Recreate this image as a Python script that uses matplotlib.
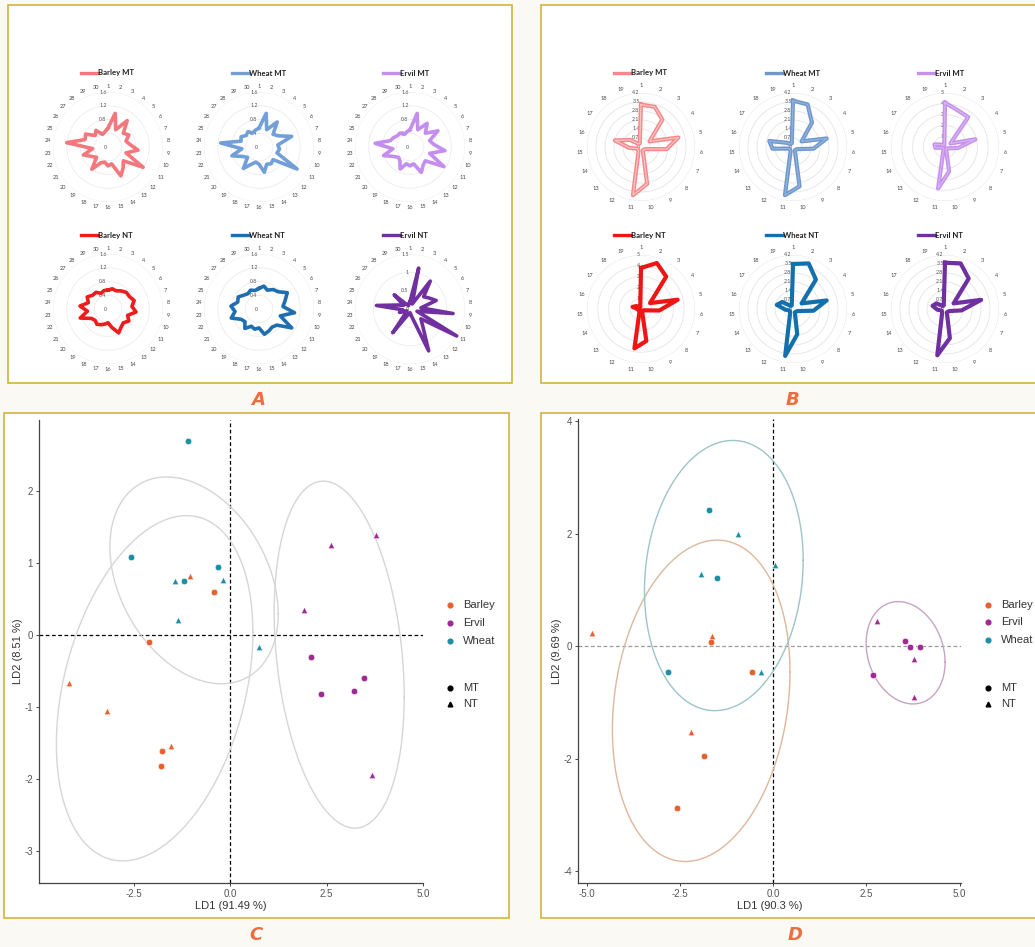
import numpy as np
import matplotlib
matplotlib.use("Agg")
import matplotlib.pyplot as plt
from matplotlib.lines import Line2D
from matplotlib.patches import Rectangle

plt.rcParams["axes.unicode_minus"] = False

# ---------------- data: radar profiles (panel A, 30 variables) ----------------
a_categories = list(range(1, 31))
a_barley_mt = [0.55, 1.00, 0.55, 0.95, 0.60, 0.70, 0.55, 0.65, 0.88, 0.55,
               1.18, 0.60, 0.75, 0.92, 0.50, 0.55, 0.45, 0.50, 0.80, 0.45,
               0.55, 0.75, 0.45, 1.21, 0.70, 0.75, 0.50, 0.60, 0.40, 0.45]
a_wheat_mt = [0.55, 1.00, 0.55, 0.90, 0.55, 0.65, 1.00, 0.55, 0.60, 0.55,
              1.28, 0.55, 0.60, 0.55, 0.75, 0.50, 0.45, 0.55, 0.77, 0.45,
              0.55, 0.83, 0.50, 1.12, 0.55, 0.60, 0.50, 0.55, 0.45, 0.50]
a_ervil_mt = [0.50, 1.00, 0.55, 0.85, 0.60, 0.94, 0.60, 0.70, 1.02, 0.60,
              1.14, 0.60, 0.65, 0.81, 0.50, 0.55, 0.50, 0.70, 0.50, 0.45,
              0.55, 0.81, 0.50, 1.02, 0.60, 0.55, 0.49, 0.50, 0.40, 0.45]
a_barley_nt = [0.55, 0.60, 0.58, 0.65, 0.72, 0.72, 0.80, 0.70, 0.82, 0.60,
               0.70, 0.60, 0.65, 0.76, 0.55, 0.40, 0.45, 0.50, 0.55, 0.50,
               0.55, 0.85, 0.60, 0.82, 0.60, 0.70, 0.60, 0.60, 0.50, 0.55]
a_wheat_nt = [0.60, 0.68, 0.60, 0.70, 0.75, 0.95, 0.80, 0.70, 1.04, 0.65,
              1.10, 0.70, 0.65, 0.70, 0.75, 0.55, 0.60, 0.55, 0.70, 0.55,
              0.60, 0.85, 0.70, 0.82, 0.65, 0.70, 0.60, 0.55, 0.60, 0.55]
a_ervil_nt = [0.20, 1.14, 0.15, 0.94, 0.50, 0.60, 0.75, 0.30, 1.18, 0.20,
              1.47, 0.40, 0.60, 1.25, 0.20, 0.10, 0.15, 0.20, 0.80, 0.15,
              0.10, 0.30, 0.20, 0.92, 0.35, 0.20, 0.58, 0.15, 0.10, 0.15]

# ---------------- data: radar profiles (panel B, 19 variables) ----------------
b_categories = list(range(1, 20))
b_barley_mt = [3.3, 3.3, 2.7, 0.8, 3.0, 2.0, 0.4, 0.3, 0.3, 2.9,
               3.8, 0.4, 0.3, 0.3, 0.9, 2.1, 1.0, 0.3, 0.3]
b_wheat_mt = [3.6, 3.5, 2.4, 0.8, 2.7, 1.6, 0.4, 0.3, 0.3, 3.1,
              3.8, 0.4, 0.3, 0.3, 1.6, 1.9, 0.6, 0.3, 0.3]
b_ervil_mt = [4.1, 3.6, 3.5, 0.6, 2.9, 1.2, 0.3, 0.2, 0.2, 2.3,
              3.9, 0.3, 0.2, 0.2, 0.9, 1.0, 0.4, 0.2, 0.2]
b_barley_nt = [3.8, 4.5, 3.8, 1.0, 3.5, 1.7, 0.3, 0.2, 0.2, 3.0,
               3.7, 0.3, 0.2, 0.2, 0.3, 0.8, 0.5, 0.2, 0.2]
b_wheat_nt = [3.5, 3.75, 2.9, 0.8, 2.7, 1.6, 0.4, 0.3, 0.3, 2.0,
              3.7, 0.5, 0.3, 0.3, 0.6, 1.3, 1.0, 0.3, 0.3]
b_ervil_nt = [3.6, 3.75, 3.0, 0.8, 2.9, 1.3, 0.4, 0.3, 0.3, 2.3,
              3.65, 0.5, 0.3, 0.3, 0.6, 1.0, 0.8, 0.3, 0.3]

a_rings = [0.4, 0.8, 1.2, 1.6]
a_ring_labels = ["0", "0.4", "0.8", "1.2", "1.6"]
a_rings_ervil_nt = [0.5, 1.0, 1.5]
a_ring_labels_ervil_nt = ["0", "0.5", "1", "1.5"]
b_rings_42 = [0.7, 1.4, 2.1, 2.8, 3.5, 4.2]
b_ring_labels_42 = ["0", "0.7", "1.4", "2.1", "2.8", "3.5", "4.2"]
b_rings_5 = [1, 2, 3, 4, 5]
b_ring_labels_5 = ["0", "1", "2", "3", "4", "5"]

# ---------------- data: LDA scores (panel C) ----------------
c_barley_mt_x = [-0.41, -2.11, -1.76, -1.80]
c_barley_mt_y = [0.60, -0.09, -1.60, -1.81]
c_barley_nt_x = [-1.03, -4.18, -3.19, -1.52]
c_barley_nt_y = [0.82, -0.66, -1.05, -1.54]
c_ervil_mt_x = [2.11, 2.35, 3.20, 3.46]
c_ervil_mt_y = [-0.30, -0.82, -0.78, -0.59]
c_ervil_nt_x = [3.78, 2.61, 1.91, 3.69]
c_ervil_nt_y = [1.39, 1.25, 0.35, -1.94]
c_wheat_mt_x = [-2.56, -1.10, -1.20, -0.31]
c_wheat_mt_y = [1.09, 2.70, 0.75, 0.95]
c_wheat_nt_x = [-1.42, -0.18, -1.34, 0.74]
c_wheat_nt_y = [0.75, 0.77, 0.21, -0.16]

# ---------------- data: LDA scores (panel D) ----------------
d_barley_mt_x = [-1.67, -0.56, -1.87, -2.59]
d_barley_mt_y = [0.08, -0.45, -1.95, -2.88]
d_barley_nt_x = [-4.86, -1.63, -2.21]
d_barley_nt_y = [0.24, 0.18, -1.52]
d_ervil_mt_x = [3.54, 3.68, 3.95, 2.69]
d_ervil_mt_y = [0.10, -0.01, -0.01, -0.51]
d_ervil_nt_x = [2.78, 3.77, 3.77]
d_ervil_nt_y = [0.44, -0.23, -0.91]
d_wheat_mt_x = [-1.72, -1.50, -2.83]
d_wheat_mt_y = [2.42, 1.22, -0.46]
d_wheat_nt_x = [-0.94, -1.94, 0.05, -0.34]
d_wheat_nt_y = [2.00, 1.29, 1.44, -0.46]

species = ["Barley", "Ervil", "Wheat"]
tillage = ["MT", "NT"]

# ---------------- figure setup ----------------
W, H = 1035, 947
fig = plt.figure(figsize=(W / 100, H / 100), dpi=100)
fig.patch.set_facecolor("#fbf9f3")


def fx(x):
    return x / W


def fy(y):
    return 1 - y / H


GOLD = "#cfae2c"
LABEL_COLOR = "#ee6d3f"


def frame(x0, y0, x1, y1):
    fig.add_artist(Rectangle((fx(x0), fy(y1)), fx(x1) - fx(x0), fy(y0) - fy(y1),
                             transform=fig.transFigure, facecolor="white",
                             edgecolor=GOLD, lw=1.1, zorder=0))


frame(8, 5, 512, 383)
frame(541, 5, 1045, 383)
frame(4, 413, 509, 918)
frame(541, 413, 1045, 918)

for letter, (x, y) in zip("ABCD", [(258, 400), (793, 400), (256, 935), (795, 935)]):
    fig.text(fx(x), fy(y), letter, color=LABEL_COLOR, fontsize=13, style="italic",
             fontweight="bold", ha="center", va="center", family="DejaVu Sans")


# ---------------- radar helper ----------------
def radar(cx, cy, R, cats, vals, rings, ring_labels, color, title, lw,
          label_r=1.1, core=None, ring_color="#ececec"):
    ax = fig.add_axes([fx(cx - R), fy(cy + R), 2 * R / W, 2 * R / H], projection="polar")
    ax.set_theta_offset(np.pi / 2)
    ax.set_theta_direction(-1)
    rmax = rings[-1]
    ax.set_ylim(0, rmax)
    ax.set_axis_off()
    ax.patch.set_alpha(0)
    n = len(cats)
    th = np.arange(n) * 2 * np.pi / n
    circ = np.linspace(0, 2 * np.pi, 361)
    for r in rings:
        ax.plot(circ, np.full_like(circ, r), color=ring_color, lw=0.6, zorder=1)
    for t, c in zip(th, cats):
        ax.text(t, rmax * label_r, str(c), fontsize=4.1, color="#444444",
                ha="center", va="center", family="Lato")
    for r, s in zip([0] + list(rings), ring_labels):
        ax.annotate(s, xy=(0, r), xytext=(-1.0, 0), textcoords="offset points",
                    ha="right", va="center", fontsize=3.8, color="#555555", family="Lato")
    tt = np.append(th, th[0])
    vv = np.append(vals, vals[0])
    ax.plot(tt, vv, color=color, lw=lw, solid_joinstyle="round", zorder=3, clip_on=False)
    if core is not None:
        ax.plot(tt, vv, color=core, lw=lw * 0.3, solid_joinstyle="round", zorder=4,
                clip_on=False, alpha=0.8)
    # legend-style title
    ty = cy - 74
    fig.add_artist(Line2D([fx(cx - 27), fx(cx - 10)], [fy(ty), fy(ty)], color=color,
                          lw=2.4, transform=fig.transFigure))
    fig.text(fx(cx - 10), fy(ty), title, fontsize=5.6, fontweight="bold", color="#222222",
             ha="left", va="center", family="Lato")
    return ax


# Panel A
a_cols = [108, 259, 410]
a_rows = [147, 309]
A_R = 55
radar(a_cols[0], a_rows[0], A_R, a_categories, a_barley_mt, a_rings, a_ring_labels,
      "#f2787d", "Barley MT", 2.6)
radar(a_cols[1], a_rows[0], A_R, a_categories, a_wheat_mt, a_rings, a_ring_labels,
      "#739fd8", "Wheat MT", 2.6)
radar(a_cols[2], a_rows[0], A_R, a_categories, a_ervil_mt, a_rings, a_ring_labels,
      "#c48ef0", "Ervil MT", 2.6)
radar(a_cols[0], a_rows[1], A_R, a_categories, a_barley_nt, a_rings, a_ring_labels,
      "#ee1c1c", "Barley NT", 2.6)
radar(a_cols[1], a_rows[1], A_R, a_categories, a_wheat_nt, a_rings, a_ring_labels,
      "#1f6fb0", "Wheat NT", 2.6)
radar(a_cols[2], a_rows[1], A_R, a_categories, a_ervil_nt, a_rings_ervil_nt,
      a_ring_labels_ervil_nt, "#7030a0", "Ervil NT", 2.6)

# Panel B
b_cols = [641, 793, 945]
b_rows = [147, 309]
B_R = 54
radar(b_cols[0], b_rows[0], B_R, b_categories, b_barley_mt, b_rings_42, b_ring_labels_42,
      "#f4888c", "Barley MT", 3.0, label_r=1.13, core="#f9d3cc", ring_color="#e4e4e4")
radar(b_cols[1], b_rows[0], B_R, b_categories, b_wheat_mt, b_rings_42, b_ring_labels_42,
      "#6f97cc", "Wheat MT", 3.0, label_r=1.13, core="#9cb9e0", ring_color="#e4e4e4")
radar(b_cols[2], b_rows[0], B_R, b_categories, b_ervil_mt, b_rings_5, b_ring_labels_5,
      "#c690ee", "Ervil MT", 3.0, label_r=1.13, core="#dcbcf4", ring_color="#e4e4e4")
radar(b_cols[0], b_rows[1], B_R, b_categories, b_barley_nt, b_rings_5, b_ring_labels_5,
      "#ee1515", "Barley NT", 3.0, label_r=1.13, ring_color="#e4e4e4")
radar(b_cols[1], b_rows[1], B_R, b_categories, b_wheat_nt, b_rings_42, b_ring_labels_42,
      "#1470ad", "Wheat NT", 3.0, label_r=1.13, ring_color="#e4e4e4")
radar(b_cols[2], b_rows[1], B_R, b_categories, b_ervil_nt, b_rings_42, b_ring_labels_42,
      "#7030a0", "Ervil NT", 3.0, label_r=1.13, ring_color="#e4e4e4")


# ---------------- LDA helpers ----------------
def cov_trob(X, nu=5, maxit=25, tol=0.01):
    """Multivariate-t robust location/scatter (as in MASS::cov.trob)."""
    n, p = X.shape
    wt = np.ones(n)
    loc = X.mean(axis=0)
    w = np.sqrt(wt)
    Xc = X - loc
    for _ in range(maxit):
        w0 = w
        Xc = X - loc
        A = np.sqrt(w / w.sum())[:, None] * Xc
        _, d, Vt = np.linalg.svd(A, full_matrices=False)
        wX = Xc @ Vt.T @ np.diag(1 / d)
        Q = (wX ** 2).sum(axis=1)
        w = (wt * (nu + p)) / (nu + Q)
        loc = (w[:, None] * X).sum(axis=0) / w.sum()
        if np.all(np.abs(w - w0) < tol):
            break
    S = np.sqrt(w)[:, None] * Xc
    return loc, S.T @ S / wt.sum()


def ellipse_path(x, y, level=0.90, segments=120):
    X = np.column_stack([x, y])
    n = len(X)
    center, shape = cov_trob(X)
    d2 = n - 1
    fq = (d2 / 2) * ((1 - level) ** (-2 / d2) - 1)  # F(2, n-1) quantile
    radius = np.sqrt(2 * fq)
    ang = np.linspace(0, 2 * np.pi, segments + 1)
    circ = np.column_stack([np.cos(ang), np.sin(ang)])
    Rm = np.linalg.cholesky(shape).T
    pts = center + radius * circ @ Rm
    return pts[:, 0], pts[:, 1]


SP_COLORS = {"Barley": "#e8602c", "Ervil": "#9e2a94", "Wheat": "#1b8fa6"}
MARKERS = {"MT": "o", "NT": "^"}
FONT = "Liberation Sans"


def lda_panel(box, xlim, ylim, xticks, xticklabels, yticks, xlabel, ylabel, groups,
              ell_colors, hline_color, legend_x, legend_ys):
    x0, y0, x1, y1 = box
    ax = fig.add_axes([fx(x0), fy(y1), (x1 - x0) / W, (y1 - y0) / H])
    ax.set_xlim(*xlim)
    ax.set_ylim(*ylim)
    ax.set_facecolor("white")
    for s in ["top", "right"]:
        ax.spines[s].set_visible(False)
    for s in ["left", "bottom"]:
        ax.spines[s].set_color("#444444")
        ax.spines[s].set_linewidth(0.9)
    ax.set_xticks(xticks)
    ax.set_xticklabels(xticklabels)
    ax.set_yticks(yticks)
    ax.tick_params(length=2.5, width=0.7, color="#444444", labelsize=7,
                   labelcolor="#555555", pad=2)
    for lab in ax.get_xticklabels() + ax.get_yticklabels():
        lab.set_family(FONT)
    ax.set_xlabel(xlabel, fontsize=8, color="#333333", family=FONT, labelpad=1)
    ax.set_ylabel(ylabel, fontsize=8, color="#333333", family=FONT, labelpad=1)
    ax.axhline(0, color=hline_color, lw=0.9, ls=(0, (3, 2)), zorder=1)
    ax.axvline(0, color="black", lw=0.9, ls=(0, (3, 2)), zorder=1)
    for sp in species:
        gx = np.concatenate([groups[(sp, t)][0] for t in tillage])
        gy = np.concatenate([groups[(sp, t)][1] for t in tillage])
        ex, ey = ellipse_path(gx, gy)
        ax.plot(ex, ey, color=ell_colors[sp], lw=1.0, zorder=2)
    for sp in species:
        for t in tillage:
            px, py = groups[(sp, t)]
            ax.scatter(px, py, marker=MARKERS[t], s=22, color=SP_COLORS[sp],
                       edgecolors="white", linewidths=0.4, zorder=3)
    # legend
    for sp, ly in zip(species, legend_ys[:3]):
        fig.add_artist(Line2D([fx(legend_x)], [fy(ly)], marker="o", ms=3.4,
                              color=SP_COLORS[sp], lw=0, transform=fig.transFigure))
        fig.text(fx(legend_x + 13), fy(ly), sp, fontsize=8, color="#333333",
                 family=FONT, ha="left", va="center")
    for t, ly in zip(tillage, legend_ys[3:]):
        fig.add_artist(Line2D([fx(legend_x)], [fy(ly)], marker=MARKERS[t], ms=3.4,
                              color="black", lw=0, transform=fig.transFigure))
        fig.text(fx(legend_x + 13), fy(ly), t, fontsize=8, color="#333333",
                 family=FONT, ha="left", va="center")
    return ax


c_groups = {
    ("Barley", "MT"): (np.array(c_barley_mt_x), np.array(c_barley_mt_y)),
    ("Barley", "NT"): (np.array(c_barley_nt_x), np.array(c_barley_nt_y)),
    ("Ervil", "MT"): (np.array(c_ervil_mt_x), np.array(c_ervil_mt_y)),
    ("Ervil", "NT"): (np.array(c_ervil_nt_x), np.array(c_ervil_nt_y)),
    ("Wheat", "MT"): (np.array(c_wheat_mt_x), np.array(c_wheat_mt_y)),
    ("Wheat", "NT"): (np.array(c_wheat_nt_x), np.array(c_wheat_nt_y)),
}
d_groups = {
    ("Barley", "MT"): (np.array(d_barley_mt_x), np.array(d_barley_mt_y)),
    ("Barley", "NT"): (np.array(d_barley_nt_x), np.array(d_barley_nt_y)),
    ("Ervil", "MT"): (np.array(d_ervil_mt_x), np.array(d_ervil_mt_y)),
    ("Ervil", "NT"): (np.array(d_ervil_nt_x), np.array(d_ervil_nt_y)),
    ("Wheat", "MT"): (np.array(d_wheat_mt_x), np.array(d_wheat_mt_y)),
    ("Wheat", "NT"): (np.array(d_wheat_nt_x), np.array(d_wheat_nt_y)),
}

lda_panel((39, 420, 423, 883), (-4.95, 5.0), (-3.44, 2.99),
          [-2.5, 0.0, 2.5, 5.0], ["-2.5", "0.0", "2.5", "5.0"], [-3, -2, -1, 0, 1, 2],
          "LD1 (91.49 %)", "LD2 (8.51 %)", c_groups,
          {"Barley": "#d6d6d6", "Ervil": "#d6d6d6", "Wheat": "#d6d6d6"}, "black",
          450, [605, 623, 641, 688, 704])

lda_panel((578, 419, 961, 883), (-5.24, 5.04), (-4.21, 4.04),
          [-5.0, -2.5, 0.0, 2.5, 5.0], ["-5.0", "-2.5", "0.0", "2.5", "5.0"], [-4, -2, 0, 2, 4],
          "LD1 (90.3 %)", "LD2 (9.69 %)", d_groups,
          {"Barley": "#dfb79c", "Ervil": "#c7a3c4", "Wheat": "#9dc4c9"}, "#9a9a9a",
          988, [605, 622, 640, 688, 704])

fig.savefig("out.png", dpi=100, facecolor=fig.get_facecolor())
